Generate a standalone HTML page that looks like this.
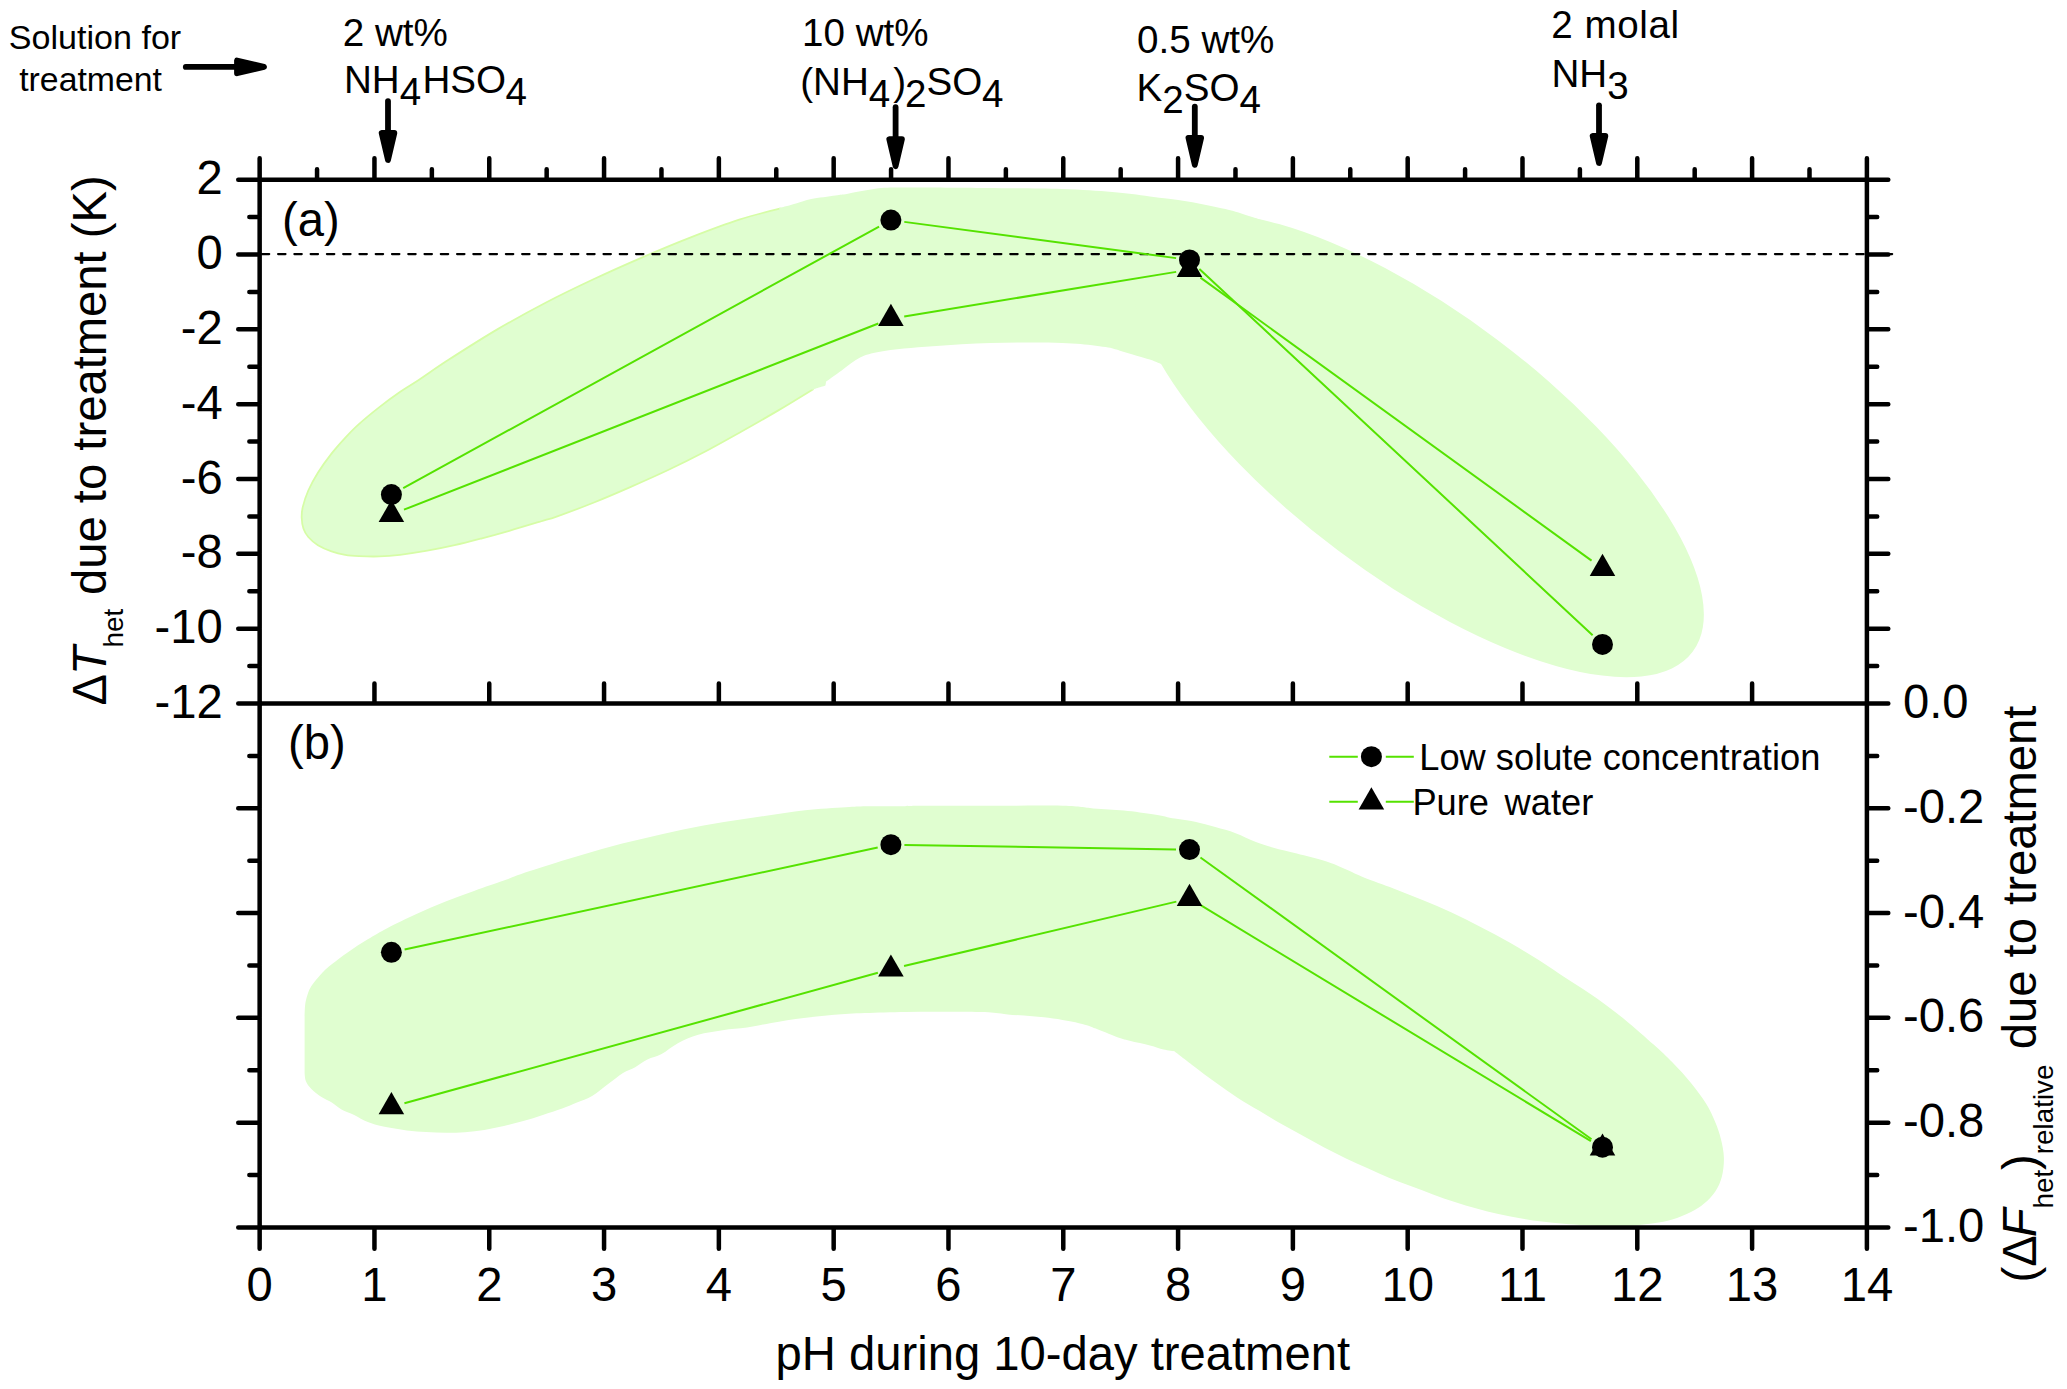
<!DOCTYPE html>
<html lang="en"><head><meta charset="utf-8"><title>pH treatment figure</title>
<style>html,body{margin:0;padding:0;background:#fff}svg{display:block}text{font-family:"Liberation Sans", Arial, Helvetica, sans-serif;fill:#000}</style></head><body>
<svg width="2067" height="1389" viewBox="0 0 2067 1389" role="img" aria-label="pH dependence of treatment effects">
<rect width="2067" height="1389" fill="#fff"/>
<path d="M779.3 209C779.3 209 753.53 215.13 738.7 219.9C723.87 224.67 706.43 231.32 690.3 237.6C674.17 243.88 658.03 250.65 641.9 257.6C625.77 264.55 609.63 271.73 593.5 279.3C577.37 286.87 561.22 294.6 545.1 303C528.98 311.4 512.92 320.22 496.8 329.7C480.68 339.18 461.43 351.52 448.4 359.9C435.37 368.28 426.77 374.6 418.6 380C410.43 385.4 406.02 387.73 399.4 392.3C392.78 396.87 385.73 402.05 378.9 407.4C372.07 412.75 364.1 419.28 358.4 424.4C352.7 429.52 349.27 433.18 344.7 438.1C340.13 443.02 335.55 448.08 331 453.9C326.45 459.72 321.27 466.85 317.4 473C313.53 479.15 310.32 485.1 307.8 490.8C305.28 496.5 303.4 502.65 302.3 507.2C301.2 511.75 301.08 514.45 301.2 518.1C301.32 521.75 301.9 525.9 303 529.1C304.1 532.3 305.4 534.57 307.8 537.3C310.2 540.03 313.53 543.12 317.4 545.5C321.27 547.88 326.45 550 331 551.6C335.55 553.2 340.13 554.3 344.7 555.1C349.27 555.9 352.7 556.13 358.4 556.4C364.1 556.67 372.07 556.92 378.9 556.7C385.73 556.48 391.42 556.05 399.4 555.1C407.38 554.15 417.68 552.6 426.8 551C435.92 549.4 444.98 547.57 454.1 545.5C463.22 543.43 472.38 541 481.5 538.6C490.62 536.2 499.05 533.9 508.8 531.1C518.55 528.3 532 524.22 540 521.8C548 519.38 547.88 519.77 556.8 516.6C565.72 513.43 581.25 507.7 593.5 502.8C605.75 497.9 618.03 492.57 630.3 487.2C642.57 481.83 654.85 476.42 667.1 470.6C679.35 464.78 691.55 458.73 703.8 452.3C716.05 445.87 728.33 438.9 740.6 432C752.87 425.1 765.45 417.95 777.4 410.9C789.35 403.85 812.3 389.7 812.3 389.7C812.3 389.7 830 300 830 300C830 300 779.3 209 779.3 209Z" fill="#E0FED0" stroke="#D6FDA6" stroke-width="1.8" transform="translate(0.5 -0.3)"/>
<path d="M779.3 216C779.3 216 779.3 207.8 779.3 207.8C779.3 207.8 784.18 206.77 787.1 206C790.02 205.23 792.77 204.37 796.8 203.2C800.83 202.03 804.85 200.3 811.3 199C817.75 197.7 829.38 196.28 835.5 195.4C841.62 194.52 840.45 194.92 848 193.7C855.55 192.48 870.32 189.12 880.8 188.1C891.28 187.08 893.3 187.6 910.9 187.6C928.5 187.6 961.23 187.85 986.4 188.1C1011.57 188.35 1040.93 188.43 1061.9 189.1C1082.87 189.77 1097.53 190.88 1112.2 192.1C1126.87 193.32 1137.32 194.85 1149.9 196.4C1162.48 197.95 1175.12 199.3 1187.7 201.4C1200.28 203.5 1214.92 206.48 1225.4 209C1235.88 211.52 1241.5 213.57 1250.6 216.5C1259.7 219.43 1280 226.6 1280 226.6C1280 226.6 1300 300 1300 300C1300 300 1200 380 1200 380C1200 380 1158.9 363.1 1158.9 363.1C1158.9 363.1 1153.52 360.73 1149.8 359.5C1146.08 358.27 1141.57 357.17 1136.6 355.7C1131.63 354.23 1125.17 352.13 1120 350.7C1114.83 349.27 1112.8 348.27 1105.6 347.1C1098.4 345.93 1086.4 344.47 1076.8 343.7C1067.2 342.93 1057.6 342.7 1048 342.5C1038.4 342.3 1028.8 342.4 1019.2 342.5C1009.6 342.6 1000 342.8 990.4 343.1C980.8 343.4 971.2 343.77 961.6 344.3C952 344.83 942.4 345.58 932.8 346.3C923.2 347.02 913.05 347.63 904 348.6C894.95 349.57 885.82 350.6 878.5 352.1C871.18 353.6 866.23 354.55 860.1 357.6C853.97 360.65 847.37 366.42 841.7 370.4C836.03 374.38 826.1 381.5 826.1 381.5C826.1 381.5 825.5 385.5 825.5 385.5C825.5 385.5 812.3 389.7 812.3 389.7C812.3 389.7 780 380 780 380C780 380 760 300 760 300C760 300 779.3 216 779.3 216Z" fill="#E0FED0"/>
<ellipse cx="1417.5" cy="445" rx="344.2" ry="132.1" transform="rotate(36.93 1417.5 445)" fill="#E0FED0"/>
<path d="M305.2 1004.4C305.68 1000.83 306.47 997.77 307.5 994.7C308.53 991.63 309.45 989.08 311.4 986C313.35 982.92 316.28 979.45 319.2 976.2C322.12 972.95 324.05 970.55 328.9 966.5C333.75 962.45 341.82 956.43 348.3 951.9C354.78 947.37 361.32 943.25 367.8 939.3C374.28 935.35 379.1 932.42 387.2 928.2C395.3 923.98 406.67 918.47 416.4 914C426.13 909.53 435.88 905.28 445.6 901.4C455.32 897.52 464.98 894.17 474.7 890.7C484.42 887.23 496.25 883.33 503.9 880.6C511.55 877.87 511.03 877.55 520.6 874.3C530.17 871.05 547.75 865.33 561.3 861.1C574.85 856.87 588.35 852.62 601.9 848.9C615.45 845.18 629.05 842.02 642.6 838.8C656.15 835.58 669.65 832.38 683.2 829.6C696.75 826.82 710.35 824.37 723.9 822.1C737.45 819.83 750.97 817.97 764.5 816C778.03 814.03 791.55 811.75 805.1 810.3C818.65 808.85 835.63 807.97 845.8 807.3C855.97 806.63 857.07 806.47 866.1 806.3C875.13 806.13 890.92 806.38 900 806.3C909.08 806.22 907 805.88 920.6 805.8C934.2 805.72 957.88 805.8 981.6 805.8C1005.32 805.8 1044.27 805.37 1062.9 805.8C1081.53 806.23 1083.23 807.62 1093.4 808.4C1103.57 809.18 1113.75 809.48 1123.9 810.5C1134.05 811.52 1145.83 813.15 1154.3 814.5C1162.77 815.85 1167.92 817.4 1174.7 818.6C1181.48 819.8 1188.23 820.28 1195 821.7C1201.77 823.12 1208.53 825.18 1215.3 827.1C1222.07 829.02 1228.83 830.72 1235.6 833.2C1242.37 835.68 1249.58 839.58 1255.9 842C1262.22 844.42 1266.68 845.78 1273.5 847.7C1280.32 849.62 1288.08 851.23 1296.8 853.5C1305.52 855.77 1317.75 858.72 1325.8 861.3C1333.85 863.88 1338.65 866.27 1345.1 869C1351.55 871.73 1356.43 874.47 1364.5 877.7C1372.57 880.93 1383.83 884.68 1393.5 888.4C1403.17 892.12 1412.82 895.97 1422.5 900C1432.18 904.03 1441.92 908.08 1451.6 912.6C1461.28 917.12 1470.93 922.1 1480.6 927.1C1490.27 932.1 1499.92 937.12 1509.6 942.6C1519.28 948.08 1529.02 953.88 1538.7 960C1548.38 966.12 1557.92 972.85 1567.7 979.3C1577.48 985.75 1587.77 991.88 1597.4 998.7C1607.03 1005.52 1616.13 1012.55 1625.5 1020.2C1634.87 1027.85 1645.8 1037.58 1653.6 1044.6C1661.4 1051.62 1666.07 1055.92 1672.3 1062.3C1678.53 1068.68 1685.38 1076.03 1691 1082.9C1696.62 1089.77 1701.95 1096.95 1706 1103.5C1710.05 1110.05 1712.82 1116.27 1715.3 1122.2C1717.78 1128.13 1719.47 1133.17 1720.9 1139.1C1722.33 1145.03 1723.73 1151.57 1723.9 1157.8C1724.07 1164.03 1723.33 1170.88 1721.9 1176.5C1720.47 1182.12 1718.27 1186.98 1715.3 1191.5C1712.33 1196.02 1708.15 1200.18 1704.1 1203.6C1700.05 1207.02 1696.3 1209.35 1691 1212C1685.7 1214.65 1678.53 1217.62 1672.3 1219.5C1666.07 1221.38 1660.65 1222.22 1653.6 1223.3C1646.55 1224.38 1637.27 1225.47 1630 1226C1622.73 1226.53 1617.42 1226.62 1610 1226.5C1602.58 1226.38 1593.22 1225.75 1585.5 1225.3C1577.78 1224.85 1570.97 1224.42 1563.7 1223.8C1556.43 1223.18 1549.17 1222.52 1541.9 1221.6C1534.63 1220.68 1527.35 1219.57 1520.1 1218.3C1512.85 1217.03 1505.65 1215.63 1498.4 1214C1491.15 1212.37 1483.87 1210.5 1476.6 1208.5C1469.33 1206.5 1462.07 1204.35 1454.8 1202C1447.53 1199.65 1440.25 1197.02 1433 1194.4C1425.75 1191.78 1418.55 1189.02 1411.3 1186.3C1404.05 1183.58 1396.77 1181.1 1389.5 1178.1C1382.23 1175.1 1374.95 1171.57 1367.7 1168.3C1360.45 1165.03 1353.25 1161.95 1346 1158.5C1338.75 1155.05 1331.47 1151.42 1324.2 1147.6C1316.93 1143.78 1309.67 1139.6 1302.4 1135.6C1295.13 1131.6 1287.85 1127.77 1280.6 1123.6C1273.35 1119.43 1266.15 1114.95 1258.9 1110.6C1251.65 1106.25 1244.37 1102.22 1237.1 1097.5C1229.83 1092.78 1222.57 1087.57 1215.3 1082.3C1208.03 1077.03 1200.27 1071.03 1193.5 1065.9C1186.73 1060.77 1174.7 1051.5 1174.7 1051.5C1174.7 1051.5 1167.62 1050.6 1163.5 1049.6C1159.38 1048.6 1155.63 1046.97 1150 1045.5C1144.37 1044.03 1135.35 1042.27 1129.7 1040.8C1124.05 1039.33 1121.75 1038.73 1116.1 1036.7C1110.45 1034.67 1101.45 1030.73 1095.8 1028.6C1090.15 1026.47 1090.1 1025.7 1082.2 1023.9C1074.3 1022.1 1060.82 1019.38 1048.4 1017.8C1035.98 1016.22 1018.32 1015.35 1007.7 1014.4C997.08 1013.45 994.97 1012.55 984.7 1012.1C974.43 1011.65 959.3 1011.73 946.1 1011.7C932.9 1011.67 919.05 1011.68 905.5 1011.9C891.95 1012.12 876.67 1012.52 864.8 1013C852.93 1013.48 844.45 1013.97 834.3 1014.8C824.15 1015.63 814.4 1016.65 803.9 1018C793.4 1019.35 780.78 1021.3 771.3 1022.9C761.82 1024.5 755.12 1026.38 747 1027.6C738.88 1028.82 730.73 1029.02 722.6 1030.2C714.47 1031.38 705.65 1032.53 698.2 1034.7C690.75 1036.87 684 1039.98 677.9 1043.2C671.8 1046.42 666.68 1051.28 661.6 1054C656.52 1056.72 651.8 1057.3 647.4 1059.5C643 1061.7 639.27 1064.97 635.2 1067.2C631.13 1069.43 627.4 1070.18 623 1072.9C618.6 1075.62 613.88 1079.7 608.8 1083.5C603.72 1087.3 597.92 1092.48 592.5 1095.7C587.08 1098.92 581.35 1100.67 576.3 1102.8C571.25 1104.93 567.78 1106.48 562.2 1108.5C556.62 1110.52 549.28 1112.8 542.8 1114.9C536.32 1117 529.78 1119.25 523.3 1121.1C516.82 1122.95 510.38 1124.53 503.9 1126C497.42 1127.47 490.88 1128.87 484.4 1129.9C477.92 1130.93 471.47 1131.72 465 1132.2C458.53 1132.68 452.08 1132.83 445.6 1132.8C439.12 1132.77 432.58 1132.4 426.1 1132C419.62 1131.6 413.83 1131.3 406.7 1130.4C399.57 1129.5 389.78 1127.98 383.3 1126.6C376.82 1125.22 372.65 1124.05 367.8 1122.1C362.95 1120.15 358.58 1117.02 354.2 1114.9C349.82 1112.78 345.23 1111.45 341.5 1109.4C337.77 1107.35 335.2 1104.7 331.8 1102.6C328.4 1100.5 324.5 1099.07 321.1 1096.8C317.7 1094.53 313.93 1091.6 311.4 1089C308.87 1086.4 307.03 1083.95 305.9 1081.2C304.77 1078.45 304.6 1072.5 304.6 1072.5C304.6 1072.5 304.6 1016.1 304.6 1016.1C304.6 1016.1 304.72 1007.97 305.2 1004.4Z" fill="#E0FED0"/>
<line x1="261.8" y1="254.1" x2="1892.2" y2="254.1" stroke="#000" stroke-width="2.15" stroke-linecap="round" stroke-dasharray="7.45 8.82"/>
<path d="M403.23 488.1 L879.07 226.6 M904.28 221.88 L1176.12 258.12 M1199.38 269.1 L1592.62 635.2" fill="none" stroke="#55E200" stroke-width="2"/>
<path d="M403.97 509.67 L878.33 323.53 M904.22 316.42 L1176.18 271.88 M1200.44 277.61 L1591.56 560.59" fill="none" stroke="#55E200" stroke-width="2"/>
<path d="M404.6 949.46 L877.7 847.54 M904.4 844.92 L1176 849.38 M1200.45 857.49 L1591.55 1139.31" fill="none" stroke="#55E200" stroke-width="2"/>
<path d="M404.42 1103.21 L877.88 972.79 M904.04 966.09 L1176.36 901.61 M1201.05 905.48 L1590.95 1141.22" fill="none" stroke="#55E200" stroke-width="2"/>
<polygon points="391.4,499.85 404.17,521.98 378.63,521.98" fill="#000"/>
<polygon points="890.9,303.85 903.67,325.98 878.13,325.98" fill="#000"/>
<polygon points="1189.5,254.95 1202.27,277.07 1176.73,277.07" fill="#000"/>
<polygon points="1602.5,553.75 1615.27,575.88 1589.73,575.88" fill="#000"/>
<polygon points="391.4,1092.05 404.17,1114.17 378.63,1114.17" fill="#000"/>
<polygon points="890.9,954.45 903.67,976.58 878.13,976.58" fill="#000"/>
<polygon points="1189.5,883.75 1202.27,905.88 1176.73,905.88" fill="#000"/>
<polygon points="1602.5,1133.45 1615.27,1155.58 1589.73,1155.58" fill="#000"/>
<circle cx="391.4" cy="494.6" r="10.5" fill="#000"/>
<circle cx="890.9" cy="220.1" r="10.5" fill="#000"/>
<circle cx="1189.5" cy="259.9" r="10.5" fill="#000"/>
<circle cx="1602.5" cy="644.4" r="10.5" fill="#000"/>
<circle cx="391.4" cy="952.3" r="10.5" fill="#000"/>
<circle cx="890.9" cy="844.7" r="10.5" fill="#000"/>
<circle cx="1189.5" cy="849.6" r="10.5" fill="#000"/>
<circle cx="1602.5" cy="1147.2" r="10.5" fill="#000"/>
<path d="M238.25 179.65 H1888.3 M238.25 703.5 H1888.3 M238.25 1227.45 H1888.3 M259.65 158.25 V1248.85 M1866.9 158.25 V1248.85 M317.05 179.65 V169.35 M374.45 179.65 V158.25 M374.45 703.5 V683.6 M374.45 1227.45 V1248.85 M431.86 179.65 V169.35 M489.26 179.65 V158.25 M489.26 703.5 V683.6 M489.26 1227.45 V1248.85 M546.66 179.65 V169.35 M604.06 179.65 V158.25 M604.06 703.5 V683.6 M604.06 1227.45 V1248.85 M661.46 179.65 V169.35 M718.86 179.65 V158.25 M718.86 703.5 V683.6 M718.86 1227.45 V1248.85 M776.27 179.65 V169.35 M833.67 179.65 V158.25 M833.67 703.5 V683.6 M833.67 1227.45 V1248.85 M891.07 179.65 V169.35 M948.47 179.65 V158.25 M948.47 703.5 V683.6 M948.47 1227.45 V1248.85 M1005.87 179.65 V169.35 M1063.28 179.65 V158.25 M1063.28 703.5 V683.6 M1063.28 1227.45 V1248.85 M1120.68 179.65 V169.35 M1178.08 179.65 V158.25 M1178.08 703.5 V683.6 M1178.08 1227.45 V1248.85 M1235.48 179.65 V169.35 M1292.88 179.65 V158.25 M1292.88 703.5 V683.6 M1292.88 1227.45 V1248.85 M1350.28 179.65 V169.35 M1407.69 179.65 V158.25 M1407.69 703.5 V683.6 M1407.69 1227.45 V1248.85 M1465.09 179.65 V169.35 M1522.49 179.65 V158.25 M1522.49 703.5 V683.6 M1522.49 1227.45 V1248.85 M1579.89 179.65 V169.35 M1637.29 179.65 V158.25 M1637.29 703.5 V683.6 M1637.29 1227.45 V1248.85 M1694.69 179.65 V169.35 M1752.1 179.65 V158.25 M1752.1 703.5 V683.6 M1752.1 1227.45 V1248.85 M1809.5 179.65 V169.35 M259.65 217.07 H249.35 M1866.9 217.07 H1877.2 M259.65 254.49 H238.25 M1866.9 254.49 H1888.3 M259.65 291.9 H249.35 M1866.9 291.9 H1877.2 M259.65 329.32 H238.25 M1866.9 329.32 H1888.3 M259.65 366.74 H249.35 M1866.9 366.74 H1877.2 M259.65 404.16 H238.25 M1866.9 404.16 H1888.3 M259.65 441.58 H249.35 M1866.9 441.58 H1877.2 M259.65 478.99 H238.25 M1866.9 478.99 H1888.3 M259.65 516.41 H249.35 M1866.9 516.41 H1877.2 M259.65 553.83 H238.25 M1866.9 553.83 H1888.3 M259.65 591.25 H249.35 M1866.9 591.25 H1877.2 M259.65 628.66 H238.25 M1866.9 628.66 H1888.3 M259.65 666.08 H249.35 M1866.9 666.08 H1877.2 M259.65 755.89 H249.35 M1866.9 755.89 H1877.2 M259.65 808.29 H238.25 M1866.9 808.29 H1888.3 M259.65 860.68 H249.35 M1866.9 860.68 H1877.2 M259.65 913.08 H238.25 M1866.9 913.08 H1888.3 M259.65 965.48 H249.35 M1866.9 965.48 H1877.2 M259.65 1017.87 H238.25 M1866.9 1017.87 H1888.3 M259.65 1070.27 H249.35 M1866.9 1070.27 H1877.2 M259.65 1122.66 H238.25 M1866.9 1122.66 H1888.3 M259.65 1175.06 H249.35 M1866.9 1175.06 H1877.2" fill="none" stroke="#000" stroke-width="4.5" stroke-linecap="round"/>
<g font-size="47.2">
<g text-anchor="middle">
<text transform="translate(259.65 1301.2) scale(1 1.02)">0</text>
<text transform="translate(374.45 1301.2) scale(1 1.02)">1</text>
<text transform="translate(489.26 1301.2) scale(1 1.02)">2</text>
<text transform="translate(604.06 1301.2) scale(1 1.02)">3</text>
<text transform="translate(718.86 1301.2) scale(1 1.02)">4</text>
<text transform="translate(833.67 1301.2) scale(1 1.02)">5</text>
<text transform="translate(948.47 1301.2) scale(1 1.02)">6</text>
<text transform="translate(1063.28 1301.2) scale(1 1.02)">7</text>
<text transform="translate(1178.08 1301.2) scale(1 1.02)">8</text>
<text transform="translate(1292.88 1301.2) scale(1 1.02)">9</text>
<text transform="translate(1407.69 1301.2) scale(1 1.02)">10</text>
<text transform="translate(1522.49 1301.2) scale(1 1.02)">11</text>
<text transform="translate(1637.29 1301.2) scale(1 1.02)">12</text>
<text transform="translate(1752.1 1301.2) scale(1 1.02)">13</text>
<text transform="translate(1866.9 1301.2) scale(1 1.02)">14</text>
</g>
<g text-anchor="end">
<text transform="translate(222.8 194.25) scale(1 1.02)">2</text>
<text transform="translate(222.8 269.09) scale(1 1.02)">0</text>
<text transform="translate(222.8 343.92) scale(1 1.02)">-2</text>
<text transform="translate(222.8 418.76) scale(1 1.02)">-4</text>
<text transform="translate(222.8 493.59) scale(1 1.02)">-6</text>
<text transform="translate(222.8 568.43) scale(1 1.02)">-8</text>
<text transform="translate(222.8 643.26) scale(1 1.02)">-10</text>
<text transform="translate(222.8 718.1) scale(1 1.02)">-12</text>
</g>
<text transform="translate(1903 718) scale(1 1.02)">0.0</text>
<text transform="translate(1903 822.79) scale(1 1.02)">-0.2</text>
<text transform="translate(1903 927.58) scale(1 1.02)">-0.4</text>
<text transform="translate(1903 1032.37) scale(1 1.02)">-0.6</text>
<text transform="translate(1903 1137.16) scale(1 1.02)">-0.8</text>
<text transform="translate(1903 1241.95) scale(1 1.02)">-1.0</text>
<text x="282" y="235.7">(a)</text>
<text x="288" y="759.2">(b)</text>
<text x="775.6" y="1369.6">pH during 10-day treatment</text>
<text transform="translate(106.4 705.5) rotate(-90)">Δ<tspan font-style="italic" dx="-1.1">T</tspan><tspan font-size="27.8" dy="17" dx="-1.2">het</tspan><tspan dy="-17" dx="0.7"> due to treatment (K)</tspan></text>
<text transform="translate(2036.2 1282.4) rotate(-90)">(Δ<tspan font-style="italic" dx="-2.2">F</tspan><tspan font-size="27.8" dy="16.5">het</tspan><tspan dy="-16.5">)</tspan><tspan font-size="27.8" dy="16.5">relative</tspan><tspan dy="-16.5" dx="2.2"> due to treatment</tspan></text>
</g>
<g font-size="34.1">
<text x="8.8" y="49">Solution for</text>
<text x="19.2" y="90.8" font-size="33.8">treatment</text>
</g>
<g font-size="38.6">
<text transform="translate(342.8 46) scale(1 1.02)">2 wt%</text>
<text transform="translate(344 92.7) scale(1 1.02)">NH<tspan dy="11.76">4</tspan><tspan dy="-11.76" dx="1.3">HSO</tspan><tspan dy="11.76" dx="-0.6">4</tspan></text>
<text transform="translate(802 46) scale(1 1.02)">10 wt%</text>
<text transform="translate(800.2 94.6) scale(1 1.02)">(NH<tspan dy="11.76">4</tspan><tspan dy="-11.76" dx="3">)</tspan><tspan dy="11.76" dx="-1">2</tspan><tspan dy="-11.76">SO</tspan><tspan dy="11.76" dx="-0.4">4</tspan></text>
<text transform="translate(1137.1 52.5) scale(1 1.02)">0.5 wt%</text>
<text transform="translate(1136.6 101.1) scale(1 1.02)">K<tspan dy="11.76">2</tspan><tspan dy="-11.76">SO</tspan><tspan dy="11.76">4</tspan></text>
<text transform="translate(1551.2 37.8) scale(1 1.02)" letter-spacing="0.6">2 molal</text>
<text transform="translate(1551.5 87.1) scale(1 1.02)">NH<tspan dy="11.76">3</tspan></text>
</g>
<path d="M388 101.1V133" stroke="#000" stroke-width="5.8" stroke-linecap="round" fill="none"/><polygon points="381.65,133 394.35,133 388,160" fill="#000" stroke="#000" stroke-width="5.8" stroke-linejoin="round"/>
<path d="M895.6 107.2V139.2" stroke="#000" stroke-width="5.8" stroke-linecap="round" fill="none"/><polygon points="889.25,139.2 901.95,139.2 895.6,166.2" fill="#000" stroke="#000" stroke-width="5.8" stroke-linejoin="round"/>
<path d="M1194.8 106.6V137.9" stroke="#000" stroke-width="5.8" stroke-linecap="round" fill="none"/><polygon points="1188.45,137.9 1201.15,137.9 1194.8,164.9" fill="#000" stroke="#000" stroke-width="5.8" stroke-linejoin="round"/>
<path d="M1599 105.3V136" stroke="#000" stroke-width="5.8" stroke-linecap="round" fill="none"/><polygon points="1592.65,136 1605.35,136 1599,163" fill="#000" stroke="#000" stroke-width="5.8" stroke-linejoin="round"/>
<path d="M185.8 66.9H237" stroke="#000" stroke-width="5.8" stroke-linecap="round" fill="none"/>
<polygon points="237,60.55 237,73.25 264,66.9" fill="#000" stroke="#000" stroke-width="5.8" stroke-linejoin="round"/>
<path d="M1329.3 756.7H1357.8M1385.8 756.7H1413.8M1329.3 801.8H1357.8M1385.8 801.8H1413.8" stroke="#55E200" stroke-width="2" fill="none"/>
<circle cx="1371.4" cy="756.7" r="10.5" fill="#000"/>
<polygon points="1371.4,787.25 1384.17,809.38 1358.63,809.38" fill="#000"/>
<g font-size="36.25">
<text x="1419.3" y="769.6">Low solute concentration</text>
<text x="1412.4" y="814.8">Pure <tspan x="1504.6">water</tspan></text>
</g>
</svg></body></html>
